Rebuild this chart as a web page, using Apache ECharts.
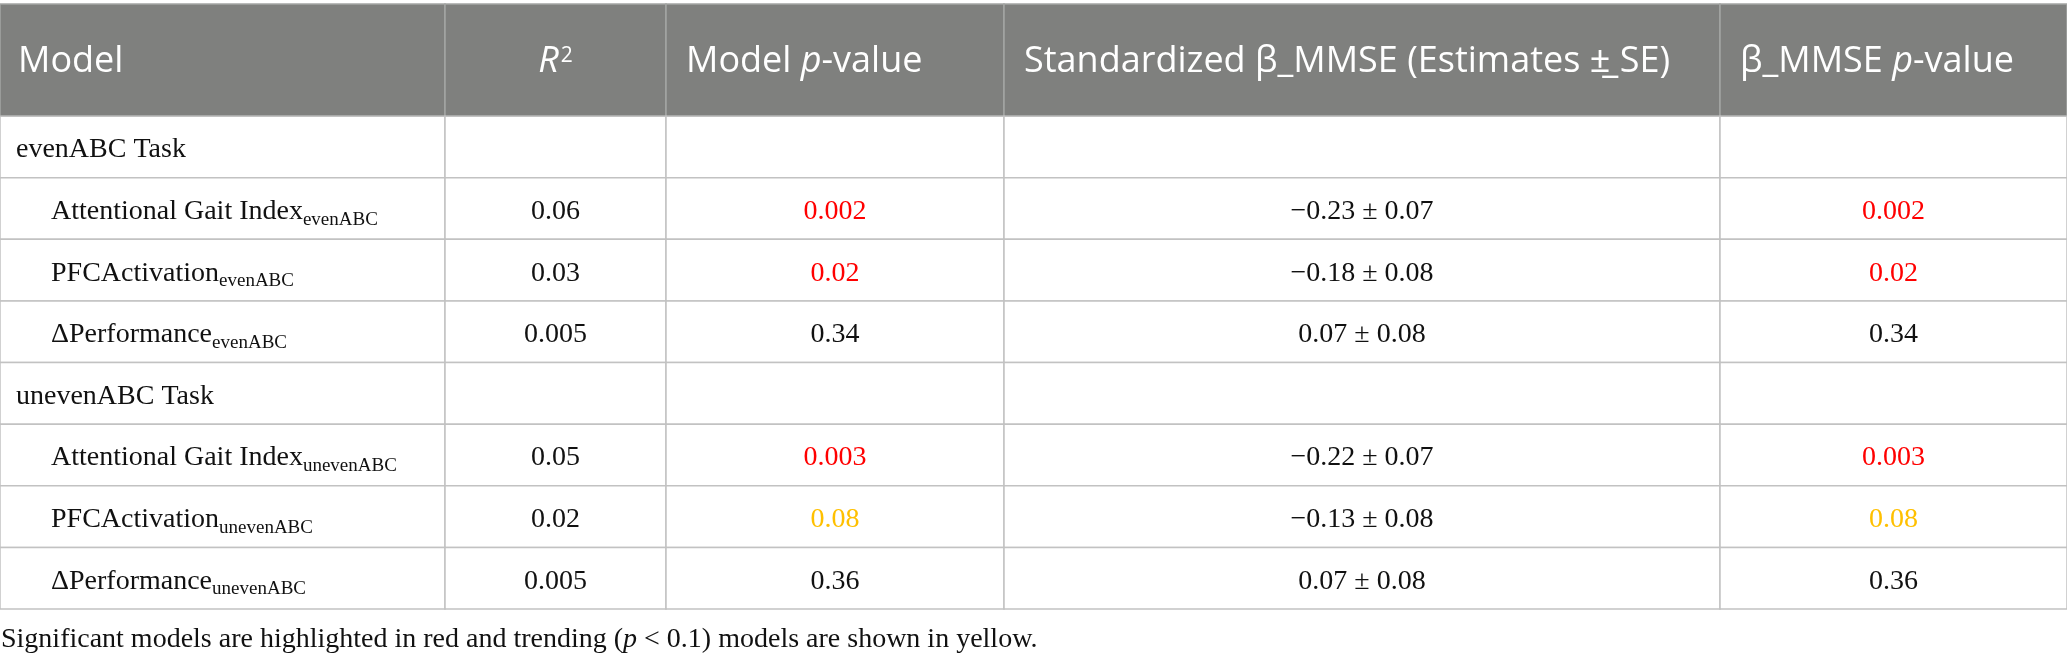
<!DOCTYPE html>
<html>
<head>
<meta charset="utf-8">
<title>MMSE models</title>
<script src="https://cdn.jsdelivr.net/npm/echarts@6/dist/echarts.min.js"></script>
<style>
    html, body { margin: 0; padding: 0; background: #fff; }
    #table { width: 2067px; height: 662px; }
</style>
</head>
<body>
<div id="table"></div>
<script>
// header labels (rich text markup)
var headers = [
    '{h|Model}',
    '{hi|R}{sup|2}',
    '{h|Model }{hi|p}{h|-value}',
    '{h|Standardized β_MMSE (Estimates ±\u0332 SE)}',
    '{h|β_MMSE }{hi|p}{h|-value}'
];

// row labels
var rowLabels = ['evenABC Task', 'Attentional Gait Index', 'PFCActivation', '\u0394Performance',
    'unevenABC Task', 'Attentional Gait Index', 'PFCActivation', '\u0394Performance'];
var rowSubs = ['', 'evenABC', 'evenABC', 'evenABC', '', 'unevenABC', 'unevenABC', 'unevenABC'];

// values
var rSquared = [null, 0.06, 0.03, 0.005, null, 0.05, 0.02, 0.005];
var modelP = [null, 0.002, 0.02, 0.34, null, 0.003, 0.08, 0.36];
var betaEst = [null, -0.23, -0.18, 0.07, null, -0.22, -0.13, 0.07];
var betaSE = [null, 0.07, 0.08, 0.08, null, 0.07, 0.08, 0.08];
var betaP = [null, 0.002, 0.02, 0.34, null, 0.003, 0.08, 0.36];

var footnote = '{n|Significant models are highlighted in red and trending (}{ni|p}{n| < 0.1) models are shown in yellow.}';

// layout
var colWidths = [445, 221, 338, 716, 347];
var headerRows = 1.82; // header is taller than a body row
var colEdges = [0];
colWidths.forEach(function (w, i) { colEdges.push(colEdges[i] + w); });
var rowEdges = [0, headerRows];
rowLabels.forEach(function (l, i) { rowEdges.push(headerRows + i + 1); });

var SANS = '"Open Sans", "Noto Sans", sans-serif';
var SERIF = '"Liberation Serif", "Times New Roman", serif';

// zrender rich tokens take fill, not color
// sup / sub are shifted with padding (bottom raises, top lowers)
var rich = {
    h: { fontFamily: SANS, fontSize: 36, lineHeight: 40, fill: '#fff' },
    hi: { fontFamily: SANS, fontSize: 36, fontStyle: 'italic', lineHeight: 40, fill: '#fff' },
    sup: { fontFamily: SANS, fontSize: 21, lineHeight: 21, padding: [0, 0, 13, 2], fill: '#fff' },
    b: { fontFamily: SERIF, fontSize: 28, lineHeight: 32, fill: '#111' },
    red: { fontFamily: SERIF, fontSize: 28, lineHeight: 32, fill: '#ff0000' },
    yel: { fontFamily: SERIF, fontSize: 28, lineHeight: 32, fill: '#ffc000' },
    s: { fontFamily: SERIF, fontSize: 19, lineHeight: 19, padding: [16, 0, 0, 0], fill: '#111' },
    n: { fontFamily: SERIF, fontSize: 28, lineHeight: 32, fill: '#111' },
    ni: { fontFamily: SERIF, fontSize: 28, fontStyle: 'italic', lineHeight: 32, fill: '#111' }
};

function fmt(v) {
    return String(v).replace('-', '\u2212');
}

function pTag(p) {
    if (p < 0.05) return 'red';
    if (p < 0.1) return 'yel';
    return 'b';
}

// text + alignment of one cell
function cellText(c, r) {
    if (r === 0) {
        return { text: headers[c], align: c === 1 ? 'center' : 'left', pad: c === 0 ? 18 : 20 };
    }
    var i = r - 1;
    if (c === 0) {
        var t = '{b|' + rowLabels[i] + '}';
        if (rowSubs[i]) t += '{s|' + rowSubs[i] + '}';
        return { text: t, align: 'left', pad: rowSubs[i] ? 51 : 16 };
    }
    if (rSquared[i] === null) return null;
    if (c === 1) return { text: '{b|' + fmt(rSquared[i]) + '}', align: 'center' };
    if (c === 2) return { text: '{' + pTag(modelP[i]) + '|' + fmt(modelP[i]) + '}', align: 'center' };
    if (c === 3) return { text: '{b|' + fmt(betaEst[i]) + ' \u00b1 ' + fmt(betaSE[i]) + '}', align: 'center' };
    return { text: '{' + pTag(betaP[i]) + '|' + fmt(betaP[i]) + '}', align: 'center' };
}

var cells = [];
for (var r = 0; r <= rowLabels.length; r++) {
    for (var c = 0; c < headers.length; c++) {
        cells.push([c, r]);
    }
}

function renderCell(params, api) {
    var c = api.value(0), r = api.value(1);
    var p0 = api.coord([colEdges[c], rowEdges[r]]);
    var p1 = api.coord([colEdges[c + 1], rowEdges[r + 1]]);
    var head = r === 0;
    var children = [{
        type: 'rect',
        shape: { x: p0[0], y: p0[1], width: p1[0] - p0[0], height: p1[1] - p0[1] },
        style: { fill: head ? '#7f807e' : '#fff', stroke: head ? '#a4a5a4' : '#c2c2c2', lineWidth: 1.5 }
    }];
    var t = cellText(c, r);
    if (t) {
        var x = t.align === 'center' ? (p0[0] + p1[0]) / 2 : p0[0] + t.pad;
        children.push({
            type: 'text',
            x: x,
            y: (p0[1] + p1[1]) / 2 + (head ? 2 : 3),
            style: { text: t.text, rich: rich, align: t.align, verticalAlign: 'middle' }
        });
    }
    return { type: 'group', children: children };
}

var chart = echarts.init(document.getElementById('table'));

chart.setOption({
    animation: false,
    grid: { left: 0, right: 0, top: 4, bottom: 53 },
    xAxis: { type: 'value', min: 0, max: colEdges[colEdges.length - 1], show: false },
    yAxis: { type: 'value', min: 0, max: rowEdges[rowEdges.length - 1], inverse: true, show: false },
    series: [{
        type: 'custom',
        renderItem: renderCell,
        clip: false,
        silent: true,
        encode: { x: 0, y: 1 },
        data: cells
    }],
    graphic: [{
        type: 'text',
        x: 1,
        y: 640,
        style: { text: footnote, rich: rich, verticalAlign: 'middle' }
    }]
});
</script>
</body>
</html>
